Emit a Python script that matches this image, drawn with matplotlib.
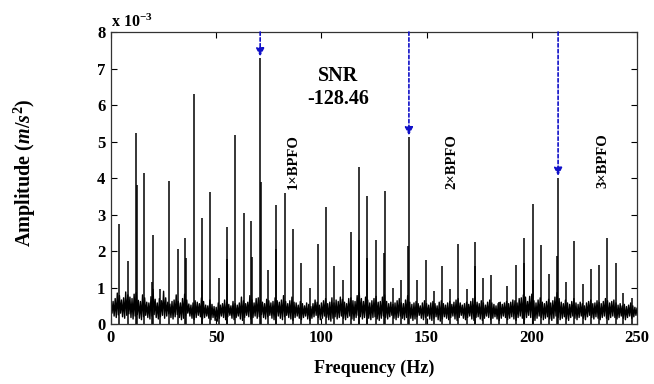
import numpy as np
import matplotlib
matplotlib.use("Agg")
import matplotlib.pyplot as plt

# ---------------- data (amplitudes in units of 1e-3 m/s^2) ----------------
peak_freq = [4.0, 8.1, 11.7, 12.2, 15.7, 19.6, 19.9, 23.4, 27.6, 31.7, 35.3, 35.6,
             39.3, 43.2, 43.4, 47.1, 51.2, 55.0, 55.2, 58.9, 63.1, 66.7, 66.9,
             70.9, 71.2, 74.8, 78.4, 78.6, 82.7, 86.7, 90.3, 94.5, 98.5, 102.0,
             106.1, 110.4, 114.1, 117.7, 118.0, 121.7, 121.9, 126.0, 129.8,
             130.1, 134.0, 137.7, 141.4, 141.6, 145.3, 149.6, 153.5, 157.2,
             161.1, 165.0, 169.0, 172.8, 173.0, 176.8, 180.8, 184.6, 188.4,
             192.5, 196.2, 196.4, 200.4, 200.6, 204.4, 208.3, 212.2, 212.5,
             216.1, 220.1, 224.2, 228.1, 231.9, 235.9, 239.9, 243.5, 247.5]
peak_amp = [2.75, 1.73, 5.23, 3.80, 4.13, 1.15, 2.44, 0.95, 3.92, 2.07, 2.35, 1.80,
            6.29, 1.22, 2.90, 3.63, 1.27, 2.67, 1.77, 5.18, 3.03, 2.82, 1.85,
            7.28, 3.88, 1.47, 3.25, 2.05, 3.58, 2.60, 1.68, 1.00, 2.20, 3.21,
            1.59, 1.20, 2.53, 2.30, 4.31, 3.52, 1.80, 2.30, 1.95,
            3.64, 1.00, 1.20, 2.15, 5.12, 1.20, 1.75, 0.90, 1.60,
            0.95, 2.19, 0.95, 1.60, 2.26, 1.27, 1.34, 0.61, 1.05,
            1.61, 1.68, 2.37, 3.28, 1.20, 2.16, 1.37, 1.86, 4.01,
            1.14, 2.28, 1.11, 1.52, 1.61, 2.37, 1.68, 0.86, 0.72]

noise_freq = list(range(0, 251))
noise_high = [0.55,0.62,0.70,0.85,0.78,0.66,0.72,0.88,0.80,0.74,
              0.70,0.82,0.86,0.65,0.62,0.80,0.72,0.60,0.58,0.75,
              0.95,0.68,0.58,0.70,0.64,0.90,0.72,0.60,0.55,0.62,
              0.66,0.80,0.62,0.58,0.70,0.82,0.66,0.55,0.52,0.58,
              0.64,0.60,0.56,0.72,0.62,0.52,0.50,0.66,0.54,0.48,
              0.46,0.58,0.52,0.56,0.66,0.60,0.54,0.50,0.62,0.56,
              0.52,0.58,0.74,0.64,0.56,0.60,0.78,0.66,0.58,0.70,
              0.72,0.66,0.60,0.56,0.68,0.64,0.58,0.62,0.72,0.64,
              0.60,0.66,0.78,0.62,0.56,0.64,0.74,0.60,0.58,0.52,
              0.62,0.56,0.50,0.58,0.54,0.48,0.56,0.66,0.60,0.52,
              0.58,0.64,0.70,0.56,0.60,0.72,0.58,0.66,0.62,0.74,
              0.68,0.60,0.56,0.70,0.72,0.64,0.62,0.78,0.86,0.70,
              0.62,0.74,0.66,0.58,0.64,0.70,0.76,0.60,0.62,0.74,
              0.80,0.62,0.56,0.60,0.54,0.58,0.64,0.70,0.58,0.56,
              0.66,0.78,0.60,0.54,0.58,0.62,0.56,0.50,0.58,0.64,
              0.56,0.52,0.58,0.62,0.56,0.50,0.60,0.64,0.56,0.52,
              0.58,0.62,0.54,0.60,0.66,0.70,0.58,0.52,0.56,0.60,
              0.54,0.62,0.70,0.74,0.60,0.56,0.64,0.58,0.52,0.60,
              0.66,0.58,0.54,0.50,0.56,0.60,0.54,0.58,0.62,0.56,
              0.60,0.66,0.64,0.58,0.70,0.72,0.80,0.74,0.62,0.76,
              0.82,0.64,0.58,0.66,0.72,0.60,0.56,0.62,0.68,0.58,
              0.64,0.74,0.86,0.70,0.60,0.56,0.66,0.58,0.54,0.62,
              0.70,0.58,0.54,0.60,0.56,0.50,0.58,0.62,0.66,0.56,
              0.58,0.64,0.60,0.56,0.62,0.70,0.64,0.58,0.62,0.66,
              0.58,0.52,0.56,0.50,0.54,0.48,0.52,0.58,0.50,0.46,
              0.44]
noise_low = [0.30,0.22,0.18,0.25,0.30,0.20,0.16,0.24,0.28,0.18,
             0.14,0.22,0.26,0.16,0.12,0.20,0.24,0.18,0.14,0.22,
             0.26,0.18,0.14,0.20,0.24,0.16,0.22,0.28,0.18,0.14,
             0.20,0.26,0.18,0.12,0.16,0.24,0.30,0.22,0.16,0.12,
             0.18,0.24,0.20,0.14,0.18,0.22,0.16,0.12,0.18,0.10,
             0.08,0.16,0.22,0.18,0.12,0.20,0.24,0.16,0.12,0.18,
             0.22,0.14,0.10,0.18,0.24,0.20,0.14,0.18,0.22,0.16,
             0.20,0.26,0.18,0.14,0.20,0.24,0.16,0.12,0.18,0.22,
             0.16,0.12,0.20,0.24,0.18,0.14,0.10,0.18,0.22,0.16,
             0.12,0.18,0.22,0.14,0.10,0.16,0.20,0.24,0.18,0.12,
             0.16,0.22,0.18,0.12,0.08,0.16,0.20,0.14,0.18,0.22,
             0.16,0.12,0.18,0.22,0.14,0.10,0.18,0.24,0.20,0.14,
             0.18,0.22,0.16,0.12,0.18,0.20,0.14,0.10,0.16,0.22,
             0.18,0.14,0.20,0.24,0.16,0.12,0.18,0.22,0.16,0.12,
             0.18,0.22,0.16,0.10,0.14,0.20,0.24,0.16,0.12,0.18,
             0.22,0.14,0.10,0.16,0.20,0.12,0.08,0.14,0.20,0.16,
             0.12,0.18,0.22,0.14,0.10,0.18,0.24,0.16,0.12,0.18,
             0.22,0.14,0.10,0.18,0.20,0.14,0.10,0.16,0.22,0.18,
             0.12,0.16,0.20,0.14,0.10,0.16,0.22,0.18,0.12,0.16,
             0.20,0.14,0.10,0.18,0.22,0.16,0.12,0.18,0.24,0.18,
             0.14,0.10,0.16,0.22,0.18,0.12,0.16,0.20,0.14,0.10,
             0.16,0.22,0.18,0.12,0.16,0.20,0.14,0.10,0.18,0.22,
             0.16,0.12,0.18,0.22,0.16,0.12,0.20,0.24,0.18,0.14,
             0.20,0.16,0.12,0.18,0.22,0.16,0.12,0.18,0.22,0.18,
             0.14,0.18,0.22,0.16,0.12,0.18,0.22,0.16,0.20,0.24,
             0.22]

bpfo_freq = [70.9, 141.6, 212.5]
bpfo_amp = [7.28, 5.12, 4.01]
bpfo_labels = ["1\u00d7BPFO", "2\u00d7BPFO", "3\u00d7BPFO"]
bpfo_label_pos = [(86.5, 4.45), (162.1, 4.45), (233.8, 4.47)]
snr_text = "SNR\n-128.46"
x_ticks = [0, 50, 100, 150, 200, 250]
y_ticks = [0, 1, 2, 3, 4, 5, 6, 7, 8]

# ---------------- style ----------------
plt.rcParams['font.family'] = ['Liberation Serif', 'DejaVu Serif']
plt.rcParams['font.weight'] = 'bold'
plt.rcParams['mathtext.fontset'] = 'custom'
plt.rcParams['mathtext.it'] = 'Liberation Serif:italic:bold'
plt.rcParams['mathtext.rm'] = 'Liberation Serif:bold'

fig = plt.figure(figsize=(6.54, 3.84), dpi=100)
ax = fig.add_axes([0.1697, 0.156, 0.8043, 0.7607])

# noise floor drawn as a dense zig-zag between the read upper/lower levels
zig_x = []
zig_y = []
for f, hi, lo in zip(noise_freq, noise_high, noise_low):
    zig_x += [f, f + 0.5]
    zig_y += [hi, lo]
ax.plot(zig_x, zig_y, color='black', lw=1.0)
ax.vlines(peak_freq, 0, peak_amp, color='black', lw=1.1)

for f, a in zip(bpfo_freq, bpfo_amp):
    ax.annotate('', xy=(f, a + 0.05), xytext=(f, 8.0),
                arrowprops=dict(arrowstyle='-|>', color='#1010c8', lw=1.2,
                                linestyle=(0, (2, 1.5)), mutation_scale=12,
                                shrinkA=0, shrinkB=0))

for lab, (x, y) in zip(bpfo_labels, bpfo_label_pos):
    ax.text(x, y, lab, rotation=90, ha='center', va='center', fontsize=10.5,
            fontweight='bold')

ax.text(107.9, 6.47, snr_text, ha='center', va='center', fontsize=14.5,
        fontweight='bold', linespacing=1.2)

ax.set_xlim(0, 250)
ax.set_ylim(0, 8)
ax.set_xticks(x_ticks)
ax.set_yticks(y_ticks)
ax.tick_params(direction='in', top=True, right=True, labelsize=12, length=4,
               width=0.8, pad=4)
for lab in ax.get_xticklabels() + ax.get_yticklabels():
    lab.set_fontweight('bold')
for s in ax.spines.values():
    s.set_linewidth(0.9)
    s.set_color('#333333')

ax.text(0.0, 1.005, r'x 10$^{-3}$', transform=ax.transAxes, ha='left',
        va='bottom', fontsize=11.5, fontweight='bold')

ax.set_xlabel('Frequency (Hz)', fontsize=13, fontweight='bold', labelpad=10)
ax.set_ylabel(r'Amplitude ($m/s^2$)', fontsize=14.5, fontweight='bold')
ax.yaxis.set_label_coords(-0.138, 0.52)

fig.savefig('out.png', dpi=100)
